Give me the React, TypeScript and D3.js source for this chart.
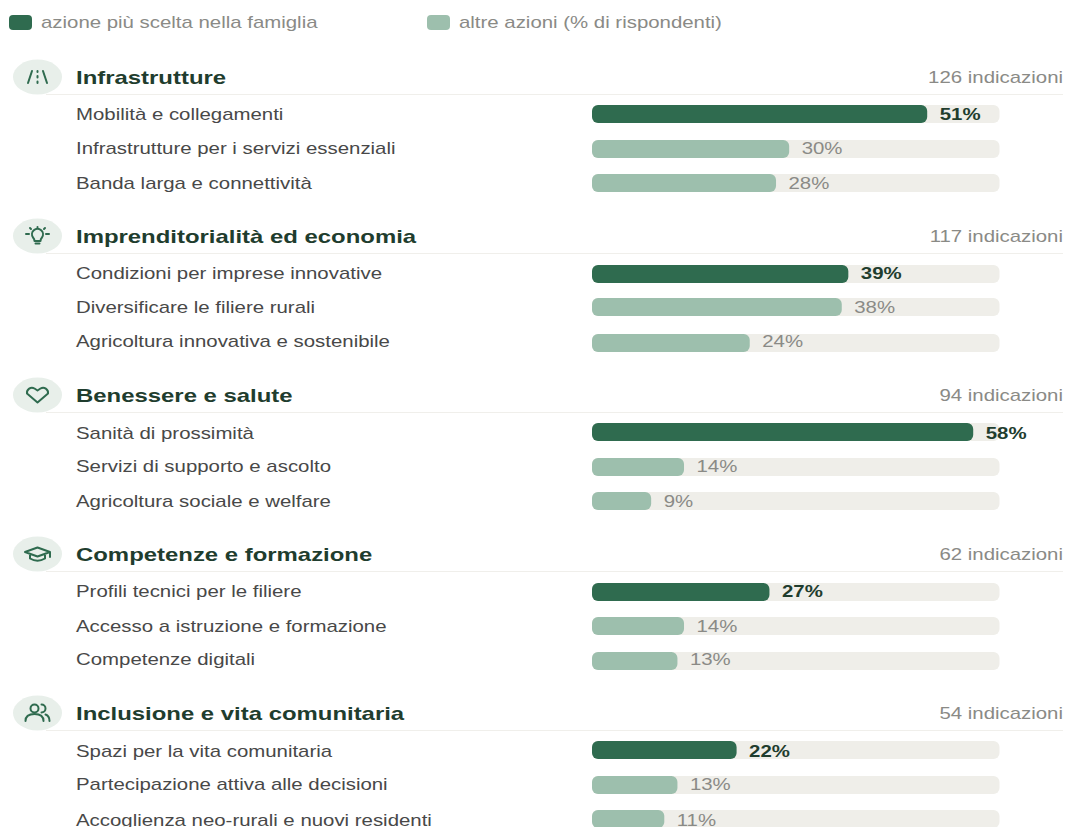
import React from "react";
import * as d3 from "d3";

const families = ["Infrastrutture", "Imprenditorialità ed economia", "Benessere e salute", "Competenze e formazione", "Inclusione e vita comunitaria"];
const indications = [126, 117, 94, 62, 54];
const actionNames = [
  ["Mobilità e collegamenti", "Infrastrutture per i servizi essenziali", "Banda larga e connettività"],
  ["Condizioni per imprese innovative", "Diversificare le filiere rurali", "Agricoltura innovativa e sostenibile"],
  ["Sanità di prossimità", "Servizi di supporto e ascolto", "Agricoltura sociale e welfare"],
  ["Profili tecnici per le filiere", "Accesso a istruzione e formazione", "Competenze digitali"],
  ["Spazi per la vita comunitaria", "Partecipazione attiva alle decisioni", "Accoglienza neo-rurali e nuovi residenti"],
];
const actionValues = [
  [51, 30, 28],
  [39, 38, 24],
  [58, 14, 9],
  [27, 14, 13],
  [22, 13, 11],
];
const legendLabels = ["azione più scelta nella famiglia", "altre azioni (% di rispondenti)"];

const DARK = "#2f6b4f", LIGHT = "#9dbfad", TRACK = "#efeee9", HEAD = "#1f3d2e", TEXT = "#484848", MUTED = "#8a8a86", ICON_BG = "#e8efea", RULE = "#f0efeb";
const FONT = "'Liberation Sans', Arial, sans-serif";
const SX = 1.3;

const x = d3.scaleLinear().domain([0, 62]).range([592, 999.5]);
const groupY = d3.scaleLinear().domain([0, 4]).range([77, 713]);
const barTop = [[28, 63, 97], [29, 62, 98], [28, 63, 97], [29, 63, 98], [28, 63, 97]];
const labelOff = [[37, 71, 106], [37, 71, 105], [38, 71, 106], [37, 72, 105], [38, 71, 107]];

function T({ x: tx, y, size, weight, fill, anchor, children }: any) {
  return (
    <text transform={`translate(${tx},${y + 1}) scale(${SX},1)`} fontSize={size} fontWeight={weight ?? 400} fill={fill} textAnchor={anchor ?? "start"} dominantBaseline="central" fontFamily={FONT}>
      {children}
    </text>
  );
}

function Icon({ i }: { i: number }) {
  const p = { fill: "none", stroke: DARK, strokeWidth: 2, strokeLinecap: "round" as const, strokeLinejoin: "round" as const };
  if (i === 0) return <g {...p}><path d="M-9.5 6 L-5.5 -6 M9.5 6 L5.5 -6 M0 -6 V-5 M0 -1 V0.5 M0 4.5 V6" /></g>;
  if (i === 1) return <g {...p}><path d="M-4.5 1.5 A5.5 5.5 0 1 1 4.5 1.5 Q3 3 3 5 H-3 Q-3 3 -4.5 1.5 Z M-2 7.5 H2 M-8.5 -2 H-11.5 M8.5 -2 H11.5 M0 -8.5 V-9 M-6.5 -7 L-7.5 -8 M6.5 -7 L7.5 -8" /></g>;
  if (i === 2) return <g {...p}><path d="M0 7.5 L-10.5 -1.5 A5 5 0 0 1 -3 -6.5 L0 -4.5 L3 -6.5 A5 5 0 0 1 10.5 -1.5 Z" /></g>;
  if (i === 3) return <g {...p}><path d="M-12.5 -2 L0 -6.5 L12.5 -2 L0 2.5 Z M-7.5 0 V4.5 Q0 9 7.5 4.5 V0 M12.5 -2 V3" /></g>;
  return <g {...p}><circle cx={-3} cy={-4.5} r={4} /><path d="M-12 8 Q-12 1 -3 1 Q6 1 6 8 M4 -8.5 A4 4 0 0 1 4 -0.5 M8 1.5 Q12 3 12 8" /></g>;
}

export default function App() {
  return (
    <svg width={1065} height={827} style={{ position: "absolute", left: 0, top: 0, background: "#fff" }}>
      <rect x={9} y={15} width={23} height={15} rx={4} fill={DARK} />
      <T x={41} y={21.5} size={15.7} fill={MUTED}>{legendLabels[0]}</T>
      <rect x={427} y={15} width={23} height={15} rx={4} fill={LIGHT} />
      <T x={459} y={21.5} size={15.7} fill={MUTED}>{legendLabels[1]}</T>
      {families.map((f, i) => {
        const gy = groupY(i);
        return (
          <g key={f}>
            <line x1={46} x2={1063} y1={gy + 17.5} y2={gy + 17.5} stroke={RULE} strokeWidth={1} />
            <ellipse cx={37.5} cy={gy} rx={24.5} ry={17.5} fill={ICON_BG} />
            <g transform={`translate(37.5,${gy})`}><Icon i={i} /></g>
            <T x={76} y={gy} size={18.4} weight={700} fill={HEAD}>{f}</T>
            <T x={1063} y={gy} size={15.7} fill={MUTED} anchor="end">{`${indications[i]} indicazioni`}</T>
            {actionNames[i].map((name, j) => {
              const v = actionValues[i][j];
              const top = gy + barTop[i][j];
              const ly = gy + labelOff[i][j];
              return (
                <g key={name}>
                  <T x={76} y={ly} size={15.7} fill={TEXT}>{name}</T>
                  <rect x={x(0)} y={top} width={x(62) - x(0)} height={18} rx={6} fill={TRACK} />
                  <rect x={x(0)} y={top} width={x(v) - x(0)} height={18} rx={6} fill={j === 0 ? DARK : LIGHT} />
                  <T x={x(v) + 12.5} y={ly} size={15.7} weight={j === 0 ? 700 : 400} fill={j === 0 ? HEAD : MUTED}>{`${v}%`}</T>
                </g>
              );
            })}
          </g>
        );
      })}
    </svg>
  );
}
